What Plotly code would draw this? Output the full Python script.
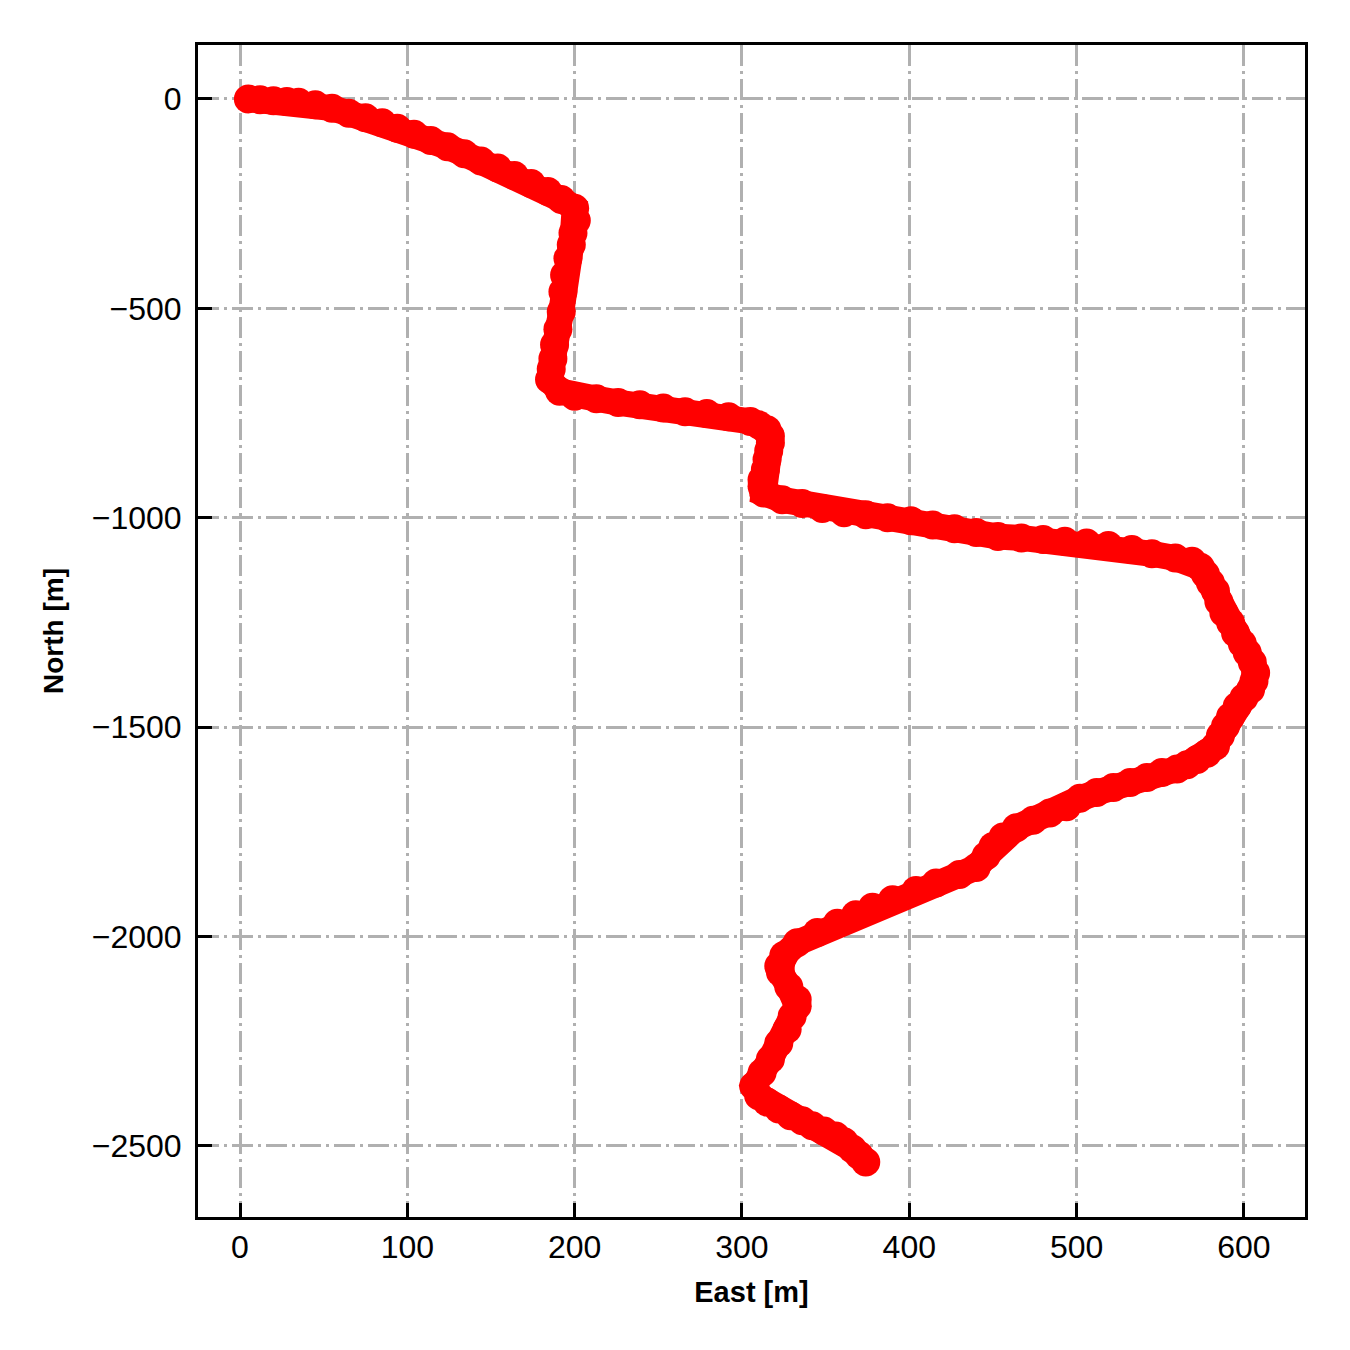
import plotly.graph_objects as go

# Well trajectory in plan view (East, North) in metres
east = [5, 12, 20, 28, 35, 45, 55, 65, 75, 85, 94, 104, 114, 124, 134, 144, 154, 164, 174, 184, 192, 200,
        201, 199, 198, 196, 194, 193, 192, 190, 188, 187, 186, 185,
        191, 200, 213, 226, 239, 253, 266, 279, 292, 305,
        310, 315, 317, 317, 316, 315, 314, 312, 312, 313,
        324, 336, 348, 361, 374, 387, 401, 414, 427, 440, 453, 467, 480, 493, 506, 519, 533, 545, 559, 569,
        574, 577, 580, 583, 585, 588, 592, 595, 599, 602, 605, 607, 606, 604, 600, 596, 592, 589, 586, 583,
        578, 572, 566, 560, 551, 542, 532, 522, 512, 502, 494, 484, 474, 464, 456, 450, 446, 440, 430, 416,
        404, 390, 378, 368, 357, 345, 333, 325, 322, 323,
        328, 333, 333, 330, 327, 322, 317, 312, 307, 310, 315, 322, 329, 336, 342, 349, 356, 361, 366, 370, 374]
north = [0, -2, -4, -6, -8, -14, -22, -34, -45, -57, -70, -84, -99, -114, -131, -148, -165, -183, -202, -221, -240, -261,
         -290, -320, -348, -380, -420, -460, -508, -550, -587, -620, -645, -670,
         -698, -710, -716, -725, -730, -738, -747, -751, -759, -770,
         -778, -790, -805, -821, -840, -861, -885, -909, -925, -941,
         -957, -966, -978, -988, -993, -1000, -1007, -1017, -1026, -1035, -1045, -1048, -1052, -1056, -1060, -1066, -1076, -1086, -1096, -1104,
         -1118, -1135, -1155, -1175, -1200, -1227, -1250, -1275, -1300, -1322, -1345, -1370, -1390, -1410, -1430, -1450, -1475, -1498, -1520, -1545,
         -1562, -1577, -1590, -1600, -1608, -1620, -1632, -1644, -1656, -1670, -1690, -1705, -1722, -1740, -1762, -1785, -1807, -1835, -1852, -1872,
         -1890, -1912, -1930, -1948, -1968, -1990, -2015, -2045, -2070, -2085,
         -2120, -2150, -2166, -2190, -2221, -2255, -2293, -2325, -2357, -2380, -2395, -2412, -2428, -2440, -2452, -2464, -2476, -2490, -2507, -2522, -2538]

x_ticks = [0, 100, 200, 300, 400, 500, 600]
y_ticks = [-2500, -2000, -1500, -1000, -500, 0]
x_range = [-25.1, 636.5]
y_range = [-2669.6, 128.9]

fig = go.Figure()
fig.add_trace(go.Scatter(x=east, y=north, mode="lines", line=dict(color="#ff0000", width=26),
                         hoverinfo="skip", showlegend=False))
fig.add_trace(go.Scatter(x=east, y=north, mode="markers",
                         marker=dict(color="#ff0000", size=29, line=dict(width=0)),
                         showlegend=False))

font_family = "Liberation Sans, Arial, sans-serif"
axis_common = dict(
    showline=True, linecolor="black", linewidth=3, mirror=True,
    ticks="inside", ticklen=14, tickwidth=3, tickcolor="black",
    showgrid=True, gridcolor="#b0b0b0", gridwidth=3, griddash="21px,5px,3px,5px",
    zeroline=False,
    tickfont=dict(family=font_family, size=32, color="black"),
)

fig.update_xaxes(range=x_range, tickvals=x_ticks, **axis_common,
                 title=dict(text="East [m]", font=dict(family=font_family, size=29, color="black", weight="bold"),
                            standoff=18))
fig.update_yaxes(range=y_range, tickvals=y_ticks, **axis_common, ticklabelstandoff=7,
                 title=dict(text="North [m]", font=dict(family=font_family, size=28, color="black", weight="bold"),
                            standoff=20))

# page body has an 8px margin, so the figure is drawn 8px smaller and shifted
fig.update_layout(
    width=1342, height=1342,
    margin=dict(l=190, r=45, t=37, b=133),
    paper_bgcolor="white", plot_bgcolor="white",
    font=dict(family=font_family),
)

fig.write_html("out.html")
